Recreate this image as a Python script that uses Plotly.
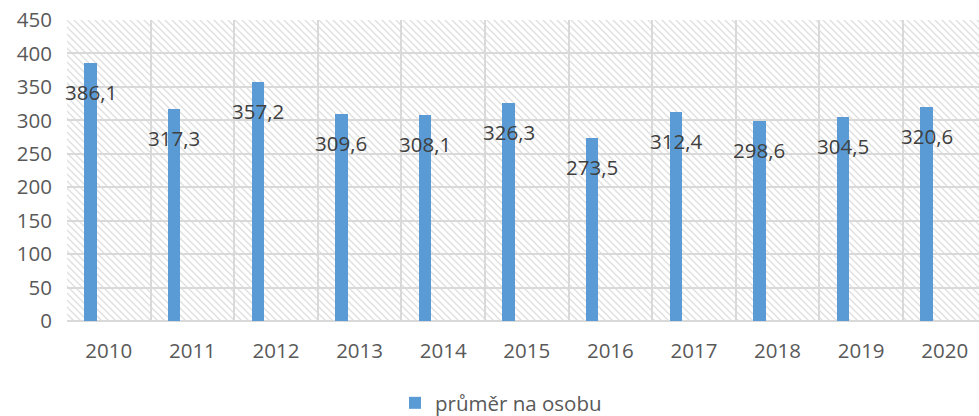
import base64
import plotly.graph_objects as go

years = ["2010", "2011", "2012", "2013", "2014", "2015", "2016", "2017", "2018", "2019", "2020"]
values = [386.1, 317.3, 357.2, 309.6, 308.1, 326.3, 273.5, 312.4, 298.6, 304.5, 320.6]
series_name = "průměr na osobu"
y_ticks = [0, 50, 100, 150, 200, 250, 300, 350, 400, 450]

labels = [f"{v:.1f}".replace(".", ",") for v in values]
idx = list(range(len(years)))
boundaries = [i - 0.5 for i in range(len(years) + 1)]

FONT = "Open Sans"
BAR = "#5b9bd5"
GRID = "#d9d9d9"
TXT = "#595959"
FS = 20.5

BAR_OFFSET = -0.292
BAR_WIDTH = 0.148

# hatch background (decoration only)
svg = (
    '<svg xmlns="http://www.w3.org/2000/svg" width="912" height="301" preserveAspectRatio="none">'
    '<defs><pattern id="h" width="7" height="7" patternUnits="userSpaceOnUse">'
    '<path d="M-1,-1 L8,8 M-8,-1 L1,8 M6,-1 L15,8" stroke="#e0e0e0" stroke-width="1.4"/>'
    '</pattern></defs><rect width="100%" height="100%" fill="white"/>'
    '<rect width="100%" height="100%" fill="url(#h)"/></svg>'
)
src = "data:image/svg+xml;base64," + base64.b64encode(svg.encode()).decode()

fig = go.Figure()
fig.add_trace(go.Bar(
    x=idx, y=values, name=series_name,
    marker=dict(color=BAR, line=dict(width=0)),
    width=BAR_WIDTH, offset=BAR_OFFSET,
    showlegend=True,
))

for i, v, t in zip(idx, values, labels):
    fig.add_annotation(
        x=i + BAR_OFFSET + BAR_WIDTH / 2, y=v, xref="x", yref="y",
        text=t, showarrow=False,
        yshift=-29, yanchor="middle", xanchor="center",
        font=dict(family=FONT, size=FS, color="#404040"),
    )

fig.add_layout_image(dict(
    source=src, xref="paper", yref="paper", x=0, y=1, sizex=1, sizey=1,
    xanchor="left", yanchor="top", sizing="stretch", layer="below",
))

fig.update_layout(
    width=979, height=416,
    margin=dict(l=67, r=0, t=20, b=95),
    paper_bgcolor="white", plot_bgcolor="rgba(0,0,0,0)",
    font=dict(family=FONT, size=FS, color=TXT),
    bargap=0,
    showlegend=True,
    legend=dict(
        orientation="h", xref="container", yref="container",
        x=395 / 979, xanchor="left", y=1 - 403 / 416, yanchor="middle",
        font=dict(family=FONT, size=FS, color=TXT),
        itemwidth=30,
    ),
    xaxis=dict(
        range=[-0.5, 10.41], automargin=False,
        tickvals=idx, ticktext=years,
        showgrid=False, ticks="", showline=False, zeroline=False,
        minor=dict(tickvals=boundaries, showgrid=True, gridcolor=GRID, gridwidth=1.5, ticks=""),
        ticklabelstandoff=15, ticklabeloverflow="allow",
        tickfont=dict(family=FONT, size=FS, color=TXT),
    ),
    yaxis=dict(
        range=[0, 450], tickvals=y_ticks, automargin=False,
        showgrid=True, gridcolor=GRID, gridwidth=1.5,
        zeroline=True, zerolinecolor=GRID, zerolinewidth=1.5,
        showline=False, ticks="",
        ticklabelstandoff=14, ticklabeloverflow="allow",
        tickfont=dict(family=FONT, size=FS, color=TXT),
    ),
)

fig.write_html(
    "out.html",
    config={"displayModeBar": False},
    post_script="document.body.style.margin='0';",
)
